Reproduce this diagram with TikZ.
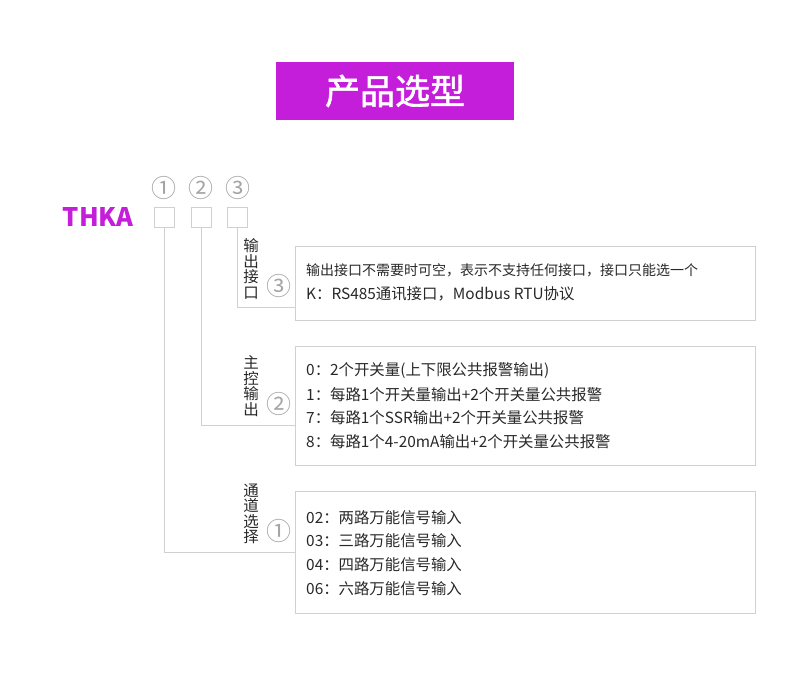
\documentclass[tikz,border=0pt]{standalone}
\usepackage{fontspec}
\setmainfont{Noto Sans CJK SC}
\newfontfamily\titlefont{Noto Sans CJK SC}[FakeBold=1.6]
\usetikzlibrary{positioning}
\definecolor{tkpurple}{RGB}{196,30,218}
\definecolor{tkline}{RGB}{208,208,208}
\definecolor{tkgray}{RGB}{165,165,165}
\definecolor{tktext}{RGB}{40,40,40}

\begin{document}
\begin{tikzpicture}[x=1pt,y=-1pt,
  optbox/.style={draw=tkline, line width=1pt, minimum width=460pt, anchor=north west, inner sep=0pt},
  codebox/.style={draw=tkline, line width=1pt, minimum size=20pt, inner sep=0pt},
  num/.style={text=tkgray, font=\fontsize{25}{25}\selectfont, inner sep=0pt},
  opttext/.style={anchor=west, text=tktext, font=\fontsize{15.4}{15.4}\selectfont, inner sep=0pt},
  vlabel/.style={align=center, text=tktext, font=\fontsize{15.5}{15.5}\selectfont, inner sep=0pt},
  conn/.style={draw=tkline, line width=1pt}]
  \useasboundingbox (0,0) rectangle (790,680);
  % title
  \node[fill=tkpurple, minimum width=238pt, minimum height=58pt, text=white,
    font=\titlefont\fontsize{35}{35}\selectfont] (title) at (395,91) {产品选型};
  % model code
  \node[text=tkpurple, font=\fontsize{25.5}{25.5}\selectfont\bfseries, anchor=east] (model) at (137,217) {THKA};
  \node[codebox] (sq1) at (164,217) {};
  \node[codebox] (sq2) at (201,217) {};
  \node[codebox] (sq3) at (237,217) {};
  \node[num] (n1) at (164,188) {①};
  \node[num] (n2) at (201,188) {②};
  \node[num] (n3) at (238,188) {③};
  % option boxes
  \node[optbox, minimum height=74pt] (opt3) at (295,246) {};
  \node[optbox, minimum height=119pt] (opt2) at (295,346) {};
  \node[optbox, minimum height=122pt] (opt1) at (295,491) {};
  % side labels
  \node[vlabel] (lab3) at (251,269) {输\\出\\接\\口};
  \node[vlabel] (lab2) at (251,386) {主\\控\\输\\出};
  \node[vlabel] (lab1) at (251,514) {通\\道\\选\\择};
  \node[num] (s3) at (279,286) {③};
  \node[num] (s2) at (279,404) {②};
  \node[num] (s1) at (279,531) {①};
  % connectors
  \coordinate (j3) at (295,307);
  \coordinate (j2) at (295,425);
  \coordinate (j1) at (295,552);
  \draw[conn] (sq3.south) |- (j3);
  \draw[conn] (sq2.south) |- (j2);
  \draw[conn] (sq1.south) |- (j1);
  % output interface
  \node[opttext, font=\fontsize{14}{14}\selectfont] (t31) at (306,270) {输出接口不需要时可空，表示不支持任何接口，接口只能选一个};
  \node[opttext] (t32) at (306,294) {K：RS485通讯接口，Modbus RTU协议};
  % main output
  \node[opttext] (t21) at (306,371) {0：2个开关量(上下限公共报警输出)};
  \node[opttext] (t22) at (306,395) {1：每路1个开关量输出+2个开关量公共报警};
  \node[opttext] (t23) at (306,418) {7：每路1个SSR输出+2个开关量公共报警};
  \node[opttext] (t24) at (306,442) {8：每路1个4-20mA输出+2个开关量公共报警};
  % channels
  \node[opttext] (t11) at (306,518) {02：两路万能信号输入};
  \node[opttext] (t12) at (306,541) {03：三路万能信号输入};
  \node[opttext] (t13) at (306,565) {04：四路万能信号输入};
  \node[opttext] (t14) at (306,589) {06：六路万能信号输入};
\end{tikzpicture}
\end{document}
